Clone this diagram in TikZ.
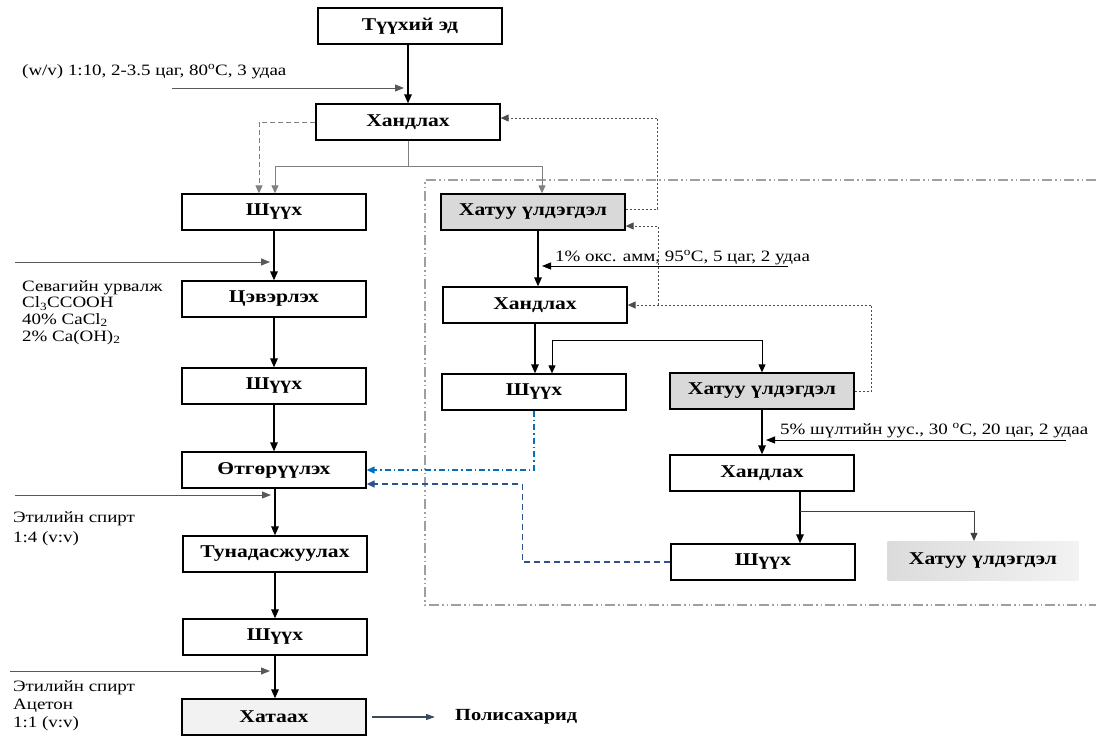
\documentclass[tikz,border=0pt]{standalone}
\usepackage{fontspec}
\setmainfont[FakeStretch=1.2]{Liberation Serif}
\usetikzlibrary{arrows.meta}
\definecolor{lineblue}{RGB}{0,112,192}
\definecolor{darkblue}{RGB}{47,82,143}
\definecolor{boxgray}{RGB}{217,217,217}
\definecolor{dryfill}{RGB}{242,242,242}
\definecolor{slate}{RGB}{59,72,94}

\begin{document}
\begin{tikzpicture}[x=1pt,y=-1pt,
  stepbox/.style={draw, line width=1.3pt, minimum width=184pt, minimum height=36pt, inner sep=0pt, font=\fontsize{18}{20}\selectfont\bfseries},
  residue/.style={stepbox, fill=boxgray},
  mainarr/.style={line width=1.4pt, -{Triangle[length=9pt,width=7.5pt]}},
  thinarr/.style={line width=0.9pt, -{Triangle[length=8pt,width=7pt]}},
  inarr/.style={black!65, line width=1pt, -{Triangle[length=9pt,width=7pt]}, shorten >=4pt},
  branch/.style={gray, line width=1pt},
  dashfeed/.style={gray, line width=1pt, dash pattern=on 5pt off 3pt},
  dotfeed/.style={gray, line width=1pt, dash pattern=on 2pt off 2pt},
  region/.style={gray!75, line width=1.3pt, dash pattern=on 10pt off 3pt on 1.5pt off 3pt on 1.5pt off 3pt},
  note/.style={font=\fontsize{15.8}{18}\selectfont, align=left, inner sep=0pt}]
\useasboundingbox (0,0) rectangle (1096,737);

% Alkaline/oxalate extraction region
\draw[region] (1096,180) -- (425,180) -- (425,605) -- (1096,605);

% Main (water) line
\node[stepbox] (raw) at (410,26) {Түүхий эд};
\node[stepbox] (hand1) at (408,122) {Хандлах};
\node[stepbox] (filt1) at (274,212) {Шүүх};
\node[residue] (res1) at (533,212) {Хатуу үлдэгдэл};
\node[stepbox] (clean) at (274,299) {Цэвэрлэх};
\node[stepbox] (filt2) at (274,386) {Шүүх};
\node[stepbox] (conc) at (274,470) {Өтгөрүүлэх};
\node[stepbox] (precip) at (275,554) {Тунадасжуулах};
\node[stepbox] (filt3) at (275,637) {Шүүх};
\node[stepbox, fill=dryfill] (dry) at (274,717) {Хатаах};
\node[anchor=west, inner sep=0pt, font=\fontsize{17}{18}\selectfont\bfseries] (product) at (455,717) {Полисахарид};

% Second and third extraction
\node[stepbox] (hand2) at (535,305) {Хандлах};
\node[stepbox] (filtB) at (534,392) {Шүүх};
\node[residue] (res2) at (762,391) {Хатуу үлдэгдэл};
\node[stepbox] (hand3) at (762,473) {Хандлах};
\node[stepbox] (filtC) at (763,562) {Шүүх};
\node[stepbox, draw=none, left color=gray!28, right color=gray!10, minimum width=191pt, minimum height=39pt] (res3) at (983,561) {Хатуу үлдэгдэл};

% Conditions
\node[note, anchor=base west] (cond1) at (22,75) {(w/v) 1:10, 2-3.5 цаг, 80\textsuperscript{o}C, 3 удаа};
\node[note, anchor=north west, font=\fontsize{15.8}{16.7}\selectfont] (cond2) at (22,280) {Севагийн урвалж\\Cl\textsubscript{3}CCOOH\\40\% CaCl\textsubscript{2}\\2\% Ca(OH)\textsubscript{2}};
\node[note, anchor=north west, font=\fontsize{15.8}{20}\selectfont] (cond3) at (13,511) {Этилийн спирт\\1:4 (v:v)};
\node[note, anchor=north west] (cond4) at (13,680) {Этилийн спирт\\Ацетон\\1:1 (v:v)};
\node[note, anchor=base west] (cond5) at (555,261) {1\% окс. амм, 95\textsuperscript{o}C, 5 цаг, 2 удаа};
\node[note, anchor=base west] (cond6) at (780,434) {5\% шүлтийн уус., 30 \textsuperscript{o}C, 20 цаг, 2 удаа};

% Input arrows
\coordinate (in1) at (172,88);
\coordinate (in2) at (15,262);
\coordinate (in3) at (15,495);
\coordinate (in4) at (10,671);
\coordinate (in5) at (788,266);
\coordinate (in6) at (1066,440);
\draw[inarr] (in1) -- (in1 -| hand1.north);
\draw[inarr] (in2) -- (in2 -| clean.north);
\draw[inarr] (in3) -- (in3 -| precip.north);
\draw[inarr] (in4) -- (in4 -| dry.north);
\draw[inarr, black] (in5) -- ([xshift=5pt]in5 -| res1.south);
\draw[inarr, black] (in6) -- (in6 -| res2.south);

% Left column
\draw[mainarr] (raw.south -| hand1.north) -- (hand1.north);
\draw[branch] (hand1.south) -- ++(0,26) coordinate (split1);
\draw[branch, -{Triangle[length=8pt,width=7pt]}] (split1) -| ([xshift=1pt]filt1.north);
\draw[branch, -{Triangle[length=8pt,width=7pt]}] (split1) -| ([xshift=9pt]res1.north);
\draw[dashfeed, -{Triangle[length=8pt,width=7pt]}] (hand1.west) -| ([xshift=-15pt]filt1.north);
\draw[mainarr] (filt1) -- (clean);
\draw[mainarr] (clean) -- (filt2);
\draw[mainarr] (filt2) -- (conc);
\draw[mainarr] (conc.south -| precip.north) -- (precip.north);
\draw[mainarr] (precip) -- (filt3);
\draw[mainarr] (filt3.south) -- (filt3.south |- dry.north);
\draw[slate, line width=1.2pt, -{Triangle[length=9pt,width=6pt]}] ([xshift=5pt]dry.east) -- ([xshift=-20pt]product.west);

% Right region
\draw[mainarr] ([xshift=5pt]res1.south) -- ([xshift=5pt]res1.south |- hand2.north);
\draw[mainarr] (hand2.south) -- (hand2.south |- filtB.north);
\draw[thinarr, {Triangle[length=8pt,width=7pt]}-{Triangle[length=8pt,width=7pt]}] ([xshift=18pt]filtB.north) |- ([yshift=32pt]res2.north) -- (res2.north);
\draw[mainarr] (res2) -- (hand3);
\draw[mainarr] ([xshift=38pt]hand3.south) -- ([xshift=38pt]hand3.south |- filtC.north);
\draw[thinarr, black!75] ([xshift=38pt,yshift=-20pt]hand3.south) -| ([xshift=-9pt]res3.north);

% Feedback loops
\draw[dotfeed, -{Triangle[length=8pt,width=7pt]}, black!70] ([yshift=3pt]res1.east) -- ++(32,0) |- ([yshift=4pt]hand1.east);
\draw[dotfeed, -{Triangle[length=8pt,width=7pt]}, black!70] (res2.east) -- ++(17,0) |- (hand2.east);
\coordinate (tap) at (658,305);
\draw[dotfeed, -{Triangle[length=8pt,width=7pt]}, black!70] (tap) |- ([yshift=-14pt]res1.east);
\draw[lineblue, line width=1.2pt, dash pattern=on 6pt off 3pt on 1.5pt off 3pt, -{Triangle[length=8pt,width=7pt]}] (filtB.south) |- (conc.east);
\draw[darkblue, line width=1.3pt, dash pattern=on 6pt off 4pt, -{Triangle[length=8pt,width=7pt]}] (filtC.west) -- ++(-148,0) |- ([yshift=-14pt]conc.east);
\end{tikzpicture}
\end{document}
